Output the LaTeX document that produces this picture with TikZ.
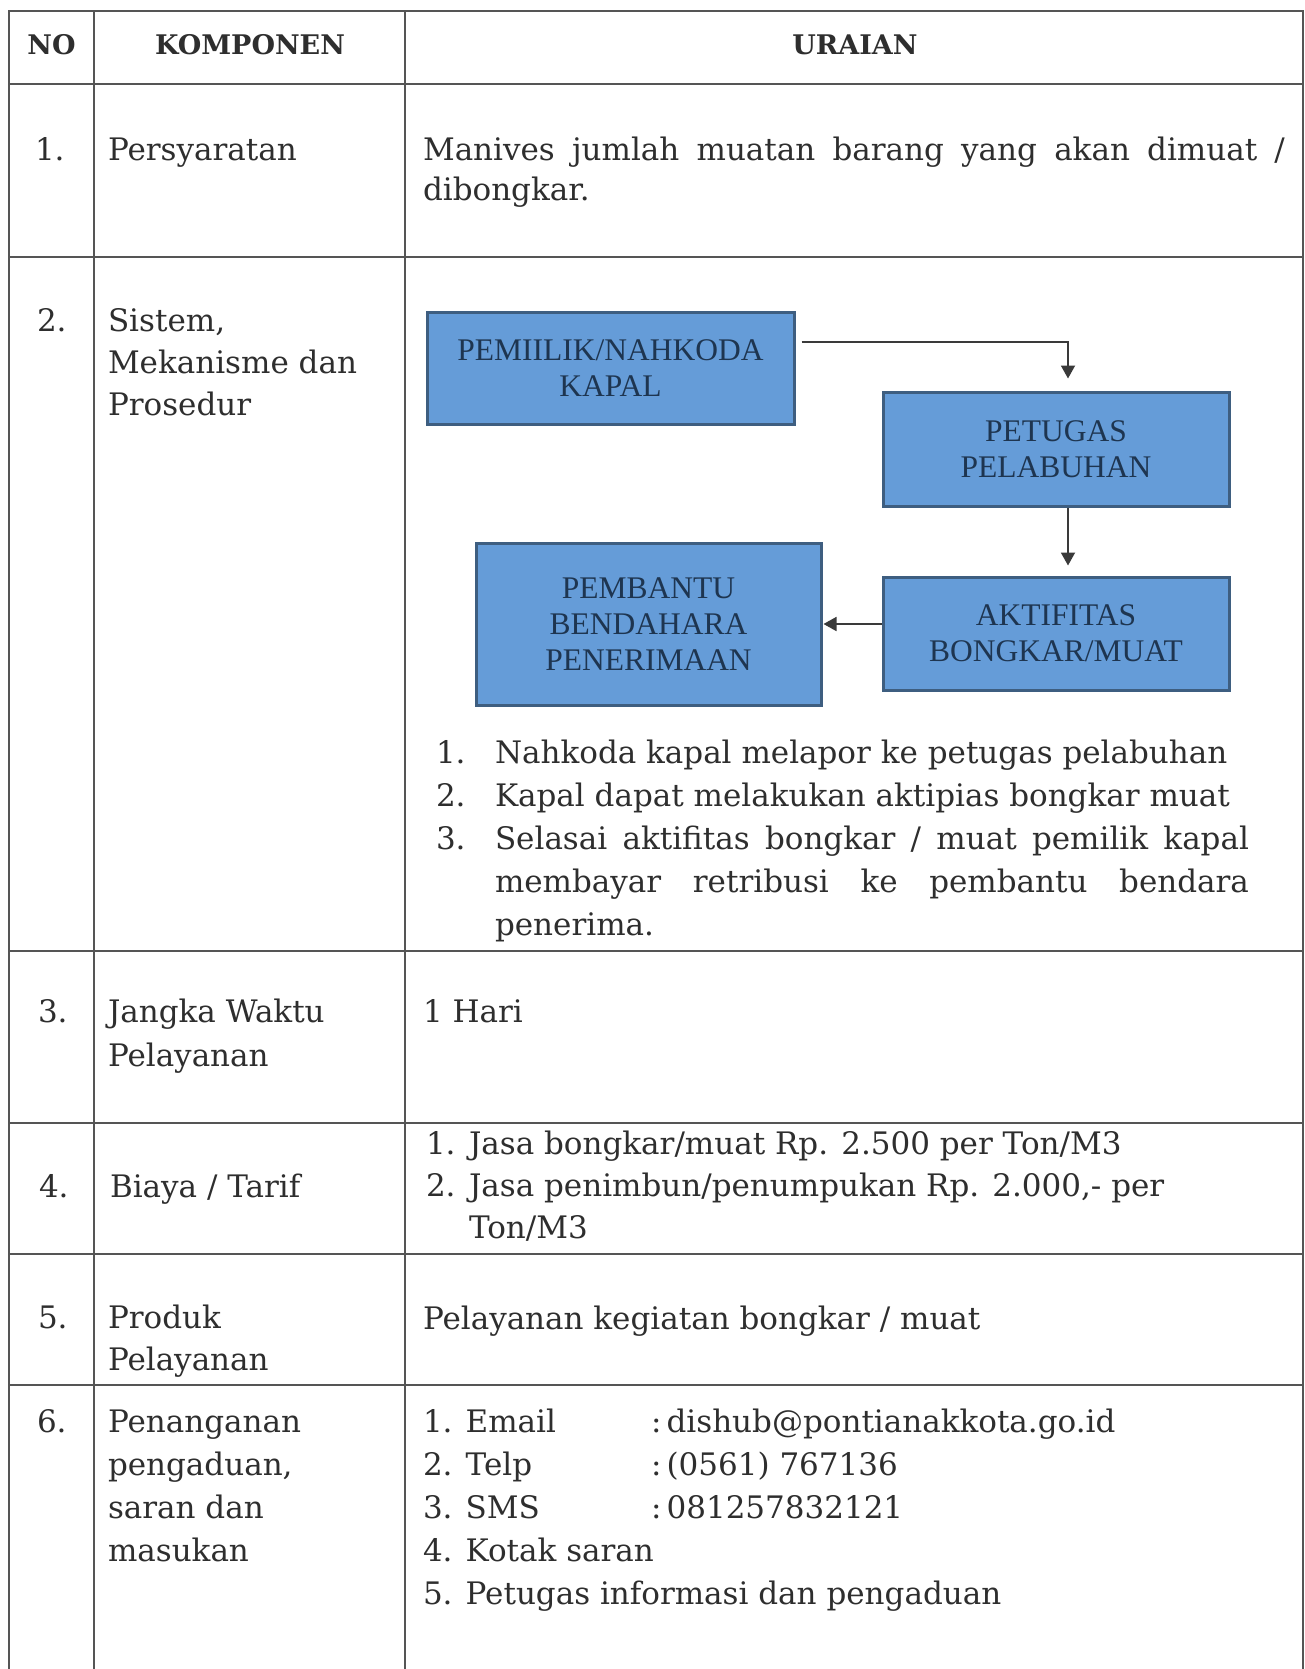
\documentclass[tikz,border=0pt]{standalone}
\usepackage{fontspec}
\setmainfont{DejaVu Serif}
\newfontfamily\boxfont{Liberation Serif}
\usetikzlibrary{arrows.meta,calc}
\definecolor{rule}{HTML}{555555}
\definecolor{ink}{HTML}{2E2E2E}
\definecolor{boxfill}{HTML}{659CD8}
\definecolor{boxedge}{HTML}{3E5E80}
\definecolor{boxink}{HTML}{1E3550}
\definecolor{wire}{HTML}{3A3A3A}
\begin{document}
\begin{tikzpicture}[x=1bp,y=-1bp,
  grid/.style={draw=rule,line width=1.6bp},
  txt/.style={anchor=base west,inner sep=0,outer sep=0,text=ink,
    font=\fontsize{31bp}{42bp}\selectfont},
  hdr/.style={anchor=base,inner sep=0,outer sep=0,text=ink,
    font=\bfseries\fontsize{27bp}{32bp}\selectfont},
  flow/.style={draw=boxedge,line width=3bp,fill=boxfill,text=boxink,
    align=center,inner sep=0,font=\boxfont\fontsize{31.5bp}{36bp}\selectfont},
  conn/.style={draw=wire,line width=1.8bp,-{Triangle[width=14bp,length=13bp]}}]

\fill[white] (0,0) rectangle (1305,1669);
\useasboundingbox (0,0) rectangle (1305,1669);

% table rules
\draw[grid] (9,1669) -- (9,11) -- (1303,11) -- (1303,1669);
\draw[grid] (94,11) -- (94,1669);
\draw[grid] (405,11) -- (405,1669);
\foreach \yy in {84,257,951,1123,1254,1385}
  \draw[grid] (9,\yy) -- (1303,\yy);

% header
\node[hdr] (hno) at (51.5,55) {NO};
\node[hdr] (hkomp) at (250,55) {KOMPONEN};
\node[hdr] (hurai) at (855,55) {URAIAN};

% row 1
\node[txt] (n1) at (35,160) {1.};
\node[txt] (k1) at (108,160) {Persyaratan};
\node[txt] (u1a) at (423,160) {\makebox[862bp][s]{Manives jumlah muatan barang yang akan dimuat /}};
\node[txt] (u1b) at (423,200) {dibongkar.};

% row 2
\node[txt] (n2) at (37,331) {2.};
\node[txt] (k2a) at (108,331) {Sistem,};
\node[txt] (k2b) at (108,373) {Mekanisme dan};
\node[txt] (k2c) at (108,415) {Prosedur};

% flow chart
\node[flow,minimum width=367bp,minimum height=112bp] (pem) at (610.5,368) {PEMIILIK/NAHKODA\\KAPAL};
\node[flow,minimum width=346bp,minimum height=114bp] (pet) at (1056,449) {PETUGAS\\PELABUHAN};
\node[flow,minimum width=346bp,minimum height=113bp] (akt) at (1056,633.5) {AKTIFITAS\\BONGKAR/MUAT};
\node[flow,minimum width=345bp,minimum height=162bp] (pbt) at (648.5,624) {PEMBANTU\\BENDAHARA\\PENERIMAAN};

\draw[conn,shorten >=12bp] ($(pem.north east)!0.277!(pem.south east)+(6,0)$) -| ($(pet.north)+(12,0)$);
\draw[conn,shorten >=10bp] ($(pet.south)+(12,0)$) -- ($(akt.north)+(12,0)$);
\draw[conn,shorten >=1bp] (akt.west |- pbt.east) -- (pbt.east);

% steps
\node[txt] (s1n) at (436,763) {1.};
\node[txt] (s1) at (495,763) {Nahkoda kapal melapor ke petugas pelabuhan};
\node[txt] (s2n) at (436,806) {2.};
\node[txt] (s2) at (495,806) {Kapal dapat melakukan aktipias bongkar muat};
\node[txt] (s3n) at (436,849) {3.};
\node[txt] (s3a) at (495,849) {\makebox[754bp][s]{Selasai aktifitas bongkar / muat pemilik kapal}};
\node[txt] (s3b) at (495,892) {\makebox[754bp][s]{membayar retribusi ke pembantu bendara}};
\node[txt] (s3c) at (495,935) {penerima.};

% row 3
\node[txt] (n3) at (38,1022) {3.};
\node[txt] (k3a) at (108,1022) {Jangka Waktu};
\node[txt] (k3b) at (108,1066) {Pelayanan};
\node[txt] (u3) at (423,1022) {1 Hari};

% row 4
\node[txt] (n4) at (39,1197) {4.};
\node[txt] (k4) at (110,1197) {Biaya / Tarif};
\node[txt] (t1n) at (426,1154) {1.};
\node[txt] (t1) at (469,1154) {Jasa bongkar/muat Rp. 2.500 per Ton/M3};
\node[txt] (t2n) at (426,1196) {2.};
\node[txt] (t2a) at (469,1196) {Jasa penimbun/penumpukan Rp. 2.000,- per};
\node[txt] (t2b) at (469,1238) {Ton/M3};

% row 5
\node[txt] (n5) at (38,1328) {5.};
\node[txt] (k5a) at (108,1328) {Produk};
\node[txt] (k5b) at (108,1370) {Pelayanan};
\node[txt] (u5) at (423,1329) {Pelayanan kegiatan bongkar / muat};

% row 6
\node[txt] (n6) at (37,1432) {6.};
\node[txt] (k6a) at (108,1432) {Penanganan};
\node[txt] (k6b) at (108,1475) {pengaduan,};
\node[txt] (k6c) at (108,1518) {saran dan};
\node[txt] (k6d) at (108,1561) {masukan};
\node[txt] (c1) at (423,1432) {1. Email};
\node[txt] (c1v) at (651,1432) {:\,dishub@pontianakkota.go.id};
\node[txt] (c2) at (423,1475) {2. Telp};
\node[txt] (c2v) at (651,1475) {:\,(0561) 767136};
\node[txt] (c3) at (423,1518) {3. SMS};
\node[txt] (c3v) at (651,1518) {:\,081257832121};
\node[txt] (c4) at (423,1561) {4. Kotak saran};
\node[txt] (c5) at (423,1604) {5. Petugas informasi dan pengaduan};
\end{tikzpicture}
\end{document}
